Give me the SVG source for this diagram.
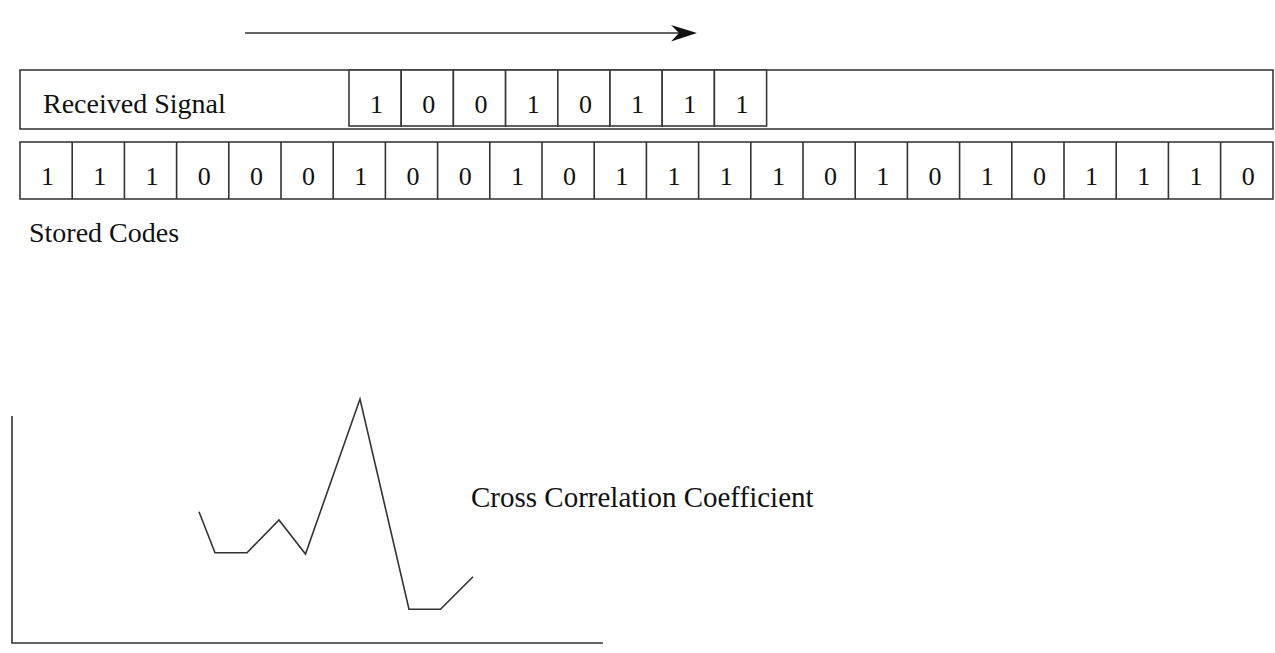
<svg xmlns="http://www.w3.org/2000/svg" width="1275" height="653" viewBox="0 0 1275 653">
<style>
.box{fill:#fff;stroke:#3a3a3a;stroke-width:1.6}
.ln{fill:none;stroke:#333;stroke-width:1.6}
.lbl{font-size:28px;fill:#111}
.dg{font-size:26px;fill:#111;text-anchor:middle}
</style>
<rect width="1275" height="653" fill="#fff"/>
<g id="connectors">
<line class="ln" x1="245" y1="33" x2="685" y2="33"/>
<polygon points="697,33 671,25 679,33 671,41.5" fill="#111"/>
</g>
<g font-family="Liberation Serif, DejaVu Serif, serif">
<g id="received-signal">
<rect class="box" x="20" y="70" width="1253" height="59"/>
<text class="lbl" x="43" y="113">Received Signal</text>
<g id="received-cells">
<rect class="box" x="349" y="70" width="52.2" height="56"/>
<rect class="box" x="401.2" y="70" width="52.2" height="56"/>
<rect class="box" x="453.4" y="70" width="52.2" height="56"/>
<rect class="box" x="505.6" y="70" width="52.2" height="56"/>
<rect class="box" x="557.8" y="70" width="52.2" height="56"/>
<rect class="box" x="610" y="70" width="52.2" height="56"/>
<rect class="box" x="662.2" y="70" width="52.2" height="56"/>
<rect class="box" x="714.4" y="70" width="52.2" height="56"/>
<text class="dg" x="376.6" y="113">1</text>
<text class="dg" x="428.8" y="113">0</text>
<text class="dg" x="481" y="113">0</text>
<text class="dg" x="533.2" y="113">1</text>
<text class="dg" x="585.4" y="113">0</text>
<text class="dg" x="637.6" y="113">1</text>
<text class="dg" x="689.8" y="113">1</text>
<text class="dg" x="742" y="113">1</text>
</g>
</g>
<g id="stored-codes">
<rect class="box" x="20" y="142" width="1253" height="57"/>
<path class="ln" d="M72.2 142V199M124.4 142V199M176.6 142V199M228.8 142V199M281 142V199M333.2 142V199M385.4 142V199M437.6 142V199M489.8 142V199M542 142V199M594.2 142V199M646.4 142V199M698.6 142V199M750.8 142V199M803 142V199M855.2 142V199M907.4 142V199M959.6 142V199M1011.8 142V199M1064 142V199M1116.2 142V199M1168.4 142V199M1220.6 142V199"/>
<text class="dg" x="47.6" y="185">1</text>
<text class="dg" x="99.8" y="185">1</text>
<text class="dg" x="152" y="185">1</text>
<text class="dg" x="204.2" y="185">0</text>
<text class="dg" x="256.4" y="185">0</text>
<text class="dg" x="308.6" y="185">0</text>
<text class="dg" x="360.8" y="185">1</text>
<text class="dg" x="413" y="185">0</text>
<text class="dg" x="465.2" y="185">0</text>
<text class="dg" x="517.4" y="185">1</text>
<text class="dg" x="569.6" y="185">0</text>
<text class="dg" x="621.8" y="185">1</text>
<text class="dg" x="674" y="185">1</text>
<text class="dg" x="726.2" y="185">1</text>
<text class="dg" x="778.4" y="185">1</text>
<text class="dg" x="830.6" y="185">0</text>
<text class="dg" x="882.8" y="185">1</text>
<text class="dg" x="935" y="185">0</text>
<text class="dg" x="987.2" y="185">1</text>
<text class="dg" x="1039.4" y="185">0</text>
<text class="dg" x="1091.6" y="185">1</text>
<text class="dg" x="1143.8" y="185">1</text>
<text class="dg" x="1196" y="185">1</text>
<text class="dg" x="1248.2" y="185">0</text>
<text class="lbl" x="29" y="242">Stored Codes</text>
</g>
<g id="chart">
<polyline class="ln" points="12,416 12,643 603,643"/>
<polyline class="ln" points="199,511.7 215,552.7 247,552.7 279,520 305.5,554 360,399 409,609.3 440.5,609.3 473,576.7"/>
<text class="lbl" x="471" y="507" style="font-size:29px">Cross Correlation Coefficient</text>
</g>
</g>
</svg>
